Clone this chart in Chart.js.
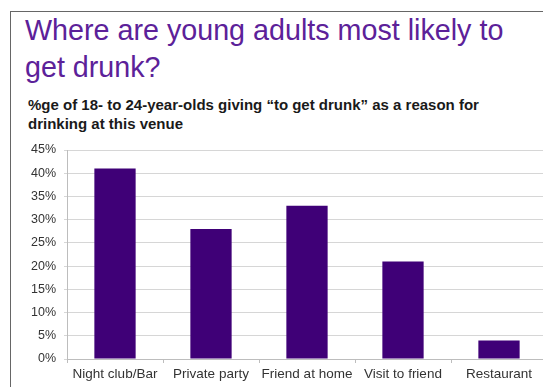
<!DOCTYPE html>
<html>
<head>
<meta charset="utf-8">
<script src="https://cdn.jsdelivr.net/npm/chart.js@4"></script>
<style>
  html, body { margin: 0; padding: 0; background: #fff; overflow: hidden; }
  body { width: 543px; height: 387px; position: relative; font-family: "Liberation Sans", Arial, sans-serif; }
  .frame { position: absolute; left: 10px; top: 11px; width: 560px; height: 400px;
           border-left: 1px solid #666; border-top: 1px solid #666; }
  .title { position: absolute; left: 25px; top: 12px; font-size: 28.7px; line-height: 37px;
           color: #5c2199; white-space: nowrap; }
  .subtitle { position: absolute; left: 28px; top: 95px; font-size: 15px; line-height: 19px;
              font-weight: bold; color: #1a1a1a; white-space: nowrap; }
  #wrap { position: absolute; left: 0; top: 0; width: 560px; height: 387px; }
</style>
</head>
<body>
<div class="frame"></div>
<div class="title">Where are young adults most likely to<br>get drunk?</div>
<div class="subtitle">%ge of 18- to 24-year-olds giving “to get drunk” as a reason for<br>drinking at this venue</div>
<div id="wrap"><canvas id="chart" width="560" height="387"></canvas></div>
<script>
// venues and share of respondents (%)
const venues = ['Night club/Bar', 'Private party', 'Friend at home', 'Visit to friend', 'Restaurant'];
const drunkShare = [41, 28, 33, 21, 4];
const yMax = 45;
const yStep = 5;

const ctx = document.getElementById('chart').getContext('2d');
new Chart(ctx, {
    type: 'bar',
    data: {
        labels: venues,
        datasets: [{
            data: drunkShare,
            backgroundColor: '#3f0077',
            borderColor: '#3f0077',
            borderWidth: 0,
            barPercentage: 0.43,
            categoryPercentage: 1
        }]
    },
    options: {
        responsive: false,
        animation: false,
        layout: { padding: { top: 150, right: 13, left: 0, bottom: 0 } },
        plugins: { legend: { display: false }, tooltip: { enabled: false } },
        scales: {
            x: {
                grid: { display: true, drawOnChartArea: false, drawTicks: true, tickLength: 4, color: '#bdbdbd', offset: true },
                border: { color: '#bdbdbd' },
                ticks: { color: '#333', font: { family: 'Liberation Sans', size: 13.5 }, padding: 3, maxRotation: 0 },
                afterFit: function(scale) { scale.height = 28; }
            },
            y: {
                min: 0,
                max: yMax,
                ticks: {
                    stepSize: yStep,
                    color: '#333',
                    font: { family: 'Liberation Sans', size: 12.5 },
                    padding: 8,
                    callback: function(v) { return v + '%'; }
                },
                grid: { color: '#d6d6d6', tickLength: 3 },
                border: { color: '#bdbdbd' },
                afterFit: function(scale) { scale.width = 67; }
            }
        }
    }
});
</script>
</body>
</html>
